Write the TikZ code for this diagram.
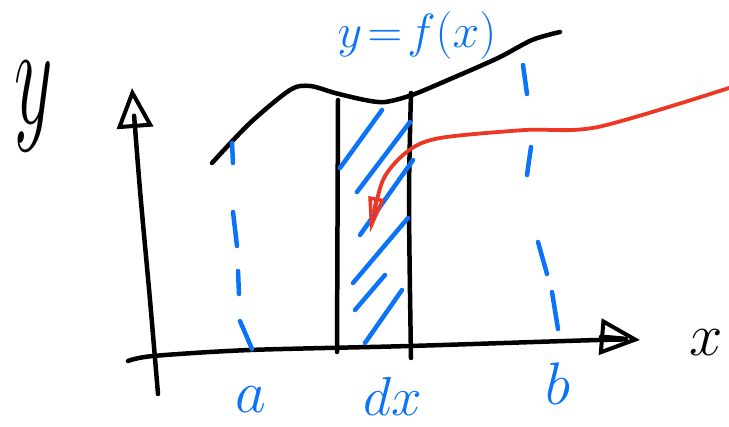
\RequirePackage{fix-cm}
\documentclass[tikz,border=0pt]{standalone}
\usepackage{graphicx}
\usetikzlibrary{arrows.meta}
\definecolor{penblue}{RGB}{10,115,250}
\definecolor{penred}{RGB}{235,55,35}

\begin{document}
\begin{tikzpicture}[x=1pt,y=-1pt,
  ink/.style={line width=4.5pt,line cap=round,line join=round},
  axisline/.style={ink,black,-{Triangle[open,length=40pt,width=36pt,line width=4pt]}},
  hatch/.style={ink,penblue},
  redarrow/.style={ink,penred,line width=3.8pt,-{Triangle[open,length=36pt,width=16pt,line width=3.5pt]}},
  lab/.style={inner sep=0pt,font=\fontsize{60}{60}\selectfont}]
\useasboundingbox (0,0) rectangle (729,427);

% axes
\draw[axisline] plot[smooth] coordinates {(158,394) (150,300) (140,190) (132,88)};
\draw[axisline] plot[smooth] coordinates {(128,361) (153,356) (250,350) (410,346) (598,340) (640,340)};

% the curve y=f(x)
\draw[ink] plot[smooth] coordinates {(212,163) (250,123) (290,90) (310,86) (335,93) (365,100) (385,102) (412,95) (448,80) (498,58) (532,40) (560,32)};

% the strip of width dx
\draw[ink] (338,100) -- (337,352);
\draw[ink] plot[smooth] coordinates {(411,93) (409,200) (411,358)};

% hatching inside the strip
\foreach \ax/\ay/\bx/\by in {340/168/382/110, 357/192/410/122, 360/235/413/160,
    353/283/408/218, 355/310/385/275, 365/343/402/290}
  \draw[hatch] (\ax,\ay) -- (\bx,\by);

% dashed limits at a and b
\foreach \ax/\ay/\bx/\by in {232/143/233/163, 233/212/237/246, 238/271/239/294, 240/321/252/349,
    523/65/527/94, 531/147/527/175, 538/242/547/274, 552/292/558/329}
  \draw[hatch] (\ax,\ay) -- (\bx,\by);

% pointer to the strip
\draw[redarrow] plot[smooth] coordinates {(729,88) (598,127) (525,130) (440,138) (408,151) (383,180) (370,233)};

% labels
\node[lab] (ylab) at (34,107) {\scalebox{1.25}[2.4]{$y$}};
\node[lab] (xlab) at (706,343) {$x$};
\node[lab,text=penblue,font=\fontsize{48}{48}\selectfont] (flab) at (417,36) {$y\!=\!f(x)$};
\node[lab,text=penblue] (alab) at (251,400) {$a$};
\node[lab,text=penblue,font=\fontsize{55}{55}\selectfont] (dxlab) at (393,396) {$dx$};
\node[lab,text=penblue] (blab) at (558,384) {$b$};
\end{tikzpicture}
\end{document}
